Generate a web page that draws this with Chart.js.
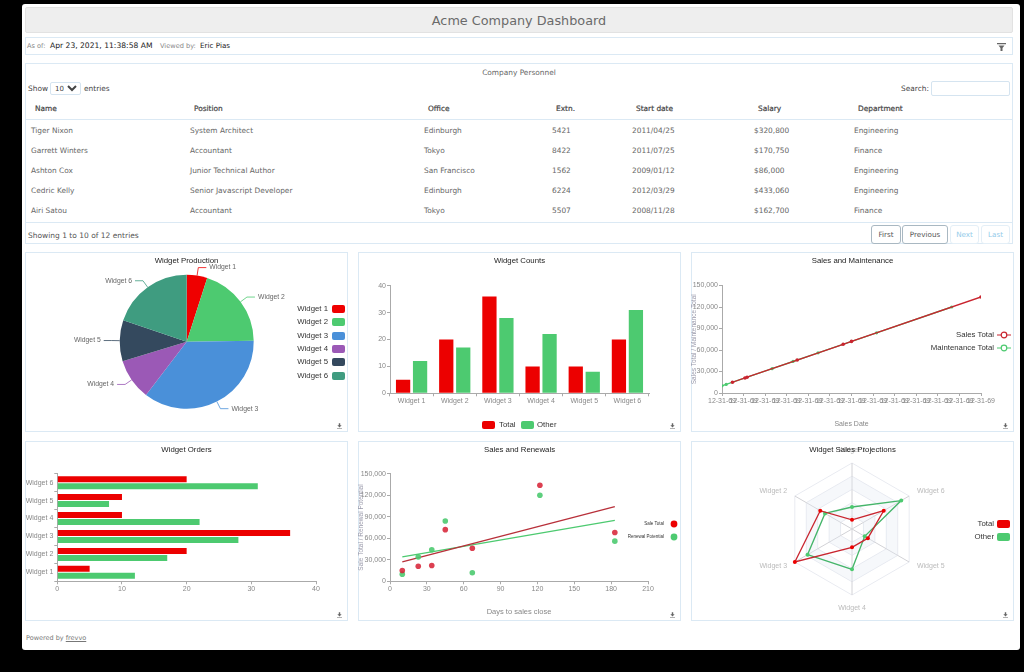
<!DOCTYPE html>
<html>
<head>
<meta charset="utf-8">
<title>Acme Company Dashboard</title>
<script src="https://cdn.jsdelivr.net/npm/chart.js@4/dist/chart.umd.js"></script>
<style>
html, body { margin: 0; padding: 0; background: #000; width: 1024px; height: 672px; overflow: hidden; }
body { font-family: "DejaVu Sans", sans-serif; font-size: 7.4px; color: #666; filter: blur(0.35px); }
#page { position: absolute; left: 22px; top: 4px; width: 998px; height: 646px; background: #fff; border-radius: 3px; }
.abs { position: absolute; white-space: nowrap; }
.card { position: absolute; box-sizing: border-box; border: 1px solid #dbe9f4; background: #fff; }
#heading { position: absolute; left: 25px; top: 7px; width: 988px; height: 26px; line-height: 26px; text-align: center; background: #eee; border: 1px solid #e2e2e2; box-sizing: border-box; border-radius: 2px; font-size: 12.8px; color: #6a6a6a; }
#grid { position: absolute; left: 25px; top: 98px; width: 988px; border-collapse: collapse; table-layout: fixed; font-size: 7.4px; }
#grid th { height: 21px; padding: 0 0 0 10px; text-align: left; font-weight: normal; color: #444; border-bottom: 1px solid #dbe9f4; -webkit-text-stroke: 0.2px #444; }
#grid td { height: 20.1px; padding: 1px 0 0 6px; box-sizing: border-box; color: #666; }
select, input { position: absolute; box-sizing: border-box; background: #fff; border: 1px solid #d5e4f0; font-family: inherit; font-size: 7px; padding: 0; margin: 0; color: #444; border-radius: 2px; }
.btn { position: absolute; top: 225px; height: 19px; line-height: 18px; box-sizing: border-box; text-align: center; font-size: 7.2px; border-radius: 3px; color: #555; border: 1px solid #a9b8c2; }
.btn.off { color: #93cbea; border-color: #e4eff7; }
.panel { position: absolute; box-sizing: border-box; width: 323px; height: 180px; }
.frame { position: absolute; left: 0; top: 0; width: 323px; height: 180px; box-sizing: border-box; border: 1px solid #dbe9f4; }
.panel canvas { position: absolute; left: 0; top: 0; }
.ctitle { position: absolute; left: 0; width: 323px; top: 4px; text-align: center; font: 7.8px "Liberation Sans", sans-serif; color: #222; }
.lg { position: absolute; font: 7.8px "Liberation Sans", sans-serif; color: #333; white-space: nowrap; line-height: 10px; }
.sw { position: absolute; width: 13px; height: 8px; border-radius: 2px; }
.dl { position: absolute; right: 6px; bottom: 3px; width: 5px; height: 6px; }
</style>
</head>
<body>
<div id="page"></div>
<div id="heading">Acme Company Dashboard</div>

<div class="card" style="left:25px;top:37px;width:988px;height:18px"></div>
<div class="abs" style="left:27px;top:42px;color:#888;font-size:6.6px">As of:</div>
<div class="abs" style="left:50px;top:41px;color:#222;font-size:7.6px">Apr 23, 2021, 11:38:58 AM</div>
<div class="abs" style="left:160px;top:42px;color:#888;font-size:6.6px">Viewed by:</div>
<div class="abs" style="left:200px;top:41px;color:#222;font-size:7.2px">Eric Pias</div>
<svg class="abs" style="left:997px;top:43px" width="9" height="8" viewBox="0 0 9 8"><path d="M0 0h9v1.2H0zM1.5 2.4h6L5.5 5v3h-2V5z" fill="#666"/></svg>

<div class="card" style="left:25px;top:63px;width:988px;height:181px"></div>
<div class="abs" style="left:25px;width:988px;top:68px;text-align:center">Company Personnel</div>
<div class="abs" style="left:28px;top:84px;color:#444">Show</div>
<select style="left:50px;top:82px;width:31px;height:13px"><option>10</option></select>
<div class="abs" style="left:84px;top:84px;color:#444">entries</div>
<div class="abs" style="left:901px;top:84px;color:#444">Search:</div>
<input style="left:931px;top:81px;width:79px;height:15px">
<table id="grid"><colgroup><col style="width:159px"><col style="width:234px"><col style="width:128px"><col style="width:80px"><col style="width:122px"><col style="width:100px"><col></colgroup><thead></thead><tbody></tbody></table>
<div class="abs" style="left:25px;top:222px;width:988px;height:1px;background:#dbe9f4"></div>
<div class="abs" style="left:28px;top:231px;color:#555;font-size:7.5px">Showing 1 to 10 of 12 entries</div>
<div class="btn" style="left:871px;width:30px">First</div>
<div class="btn" style="left:902px;width:46px">Previous</div>
<div class="btn off" style="left:950px;width:29px">Next</div>
<div class="btn off" style="left:981px;width:29px">Last</div>

<div class="panel" style="left:25px;top:252px"><div class="frame"></div><canvas id="pieChart" width="323" height="180"></canvas><div class="ctitle">Widget Production</div>
  <div id="pieLegend"></div>
</div>
<div class="panel" style="left:358px;top:252px"><div class="frame"></div><canvas id="countChart" width="323" height="180"></canvas><div class="ctitle">Widget Counts</div>
  <div class="sw" style="left:124px;top:169px;background:#ec0000"></div><div class="lg" style="left:141px;top:168px">Total</div>
  <div class="sw" style="left:163px;top:169px;background:#4dca70"></div><div class="lg" style="left:179px;top:168px">Other</div>
</div>
<div class="panel" style="left:691px;top:252px"><div class="frame"></div><canvas id="maintChart" width="323" height="180"></canvas><div class="ctitle">Sales and Maintenance</div>
  <div class="lg" style="right:20px;top:78px">Sales Total</div>
  <div class="lg" style="right:20px;top:91px">Maintenance Total</div>
  <svg class="abs" style="left:306px;top:78px" width="14" height="24" viewBox="0 0 14 24"><path d="M0 5h14" stroke="#c9252f"/><circle cx="7" cy="5" r="2.8" fill="#fff" stroke="#c9252f" stroke-width="1.2"/><path d="M0 18h14" stroke="#4dca70"/><circle cx="7" cy="18" r="2.8" fill="#fff" stroke="#4dca70" stroke-width="1.2"/></svg>
</div>
<div class="panel" style="left:25px;top:441px"><div class="frame"></div><canvas id="orderChart" width="323" height="180"></canvas><div class="ctitle">Widget Orders</div></div>
<div class="panel" style="left:358px;top:441px"><div class="frame"></div><canvas id="renewChart" width="323" height="180"></canvas><div class="ctitle">Sales and Renewals</div>
  <div class="lg" style="right:17px;top:78px;font-size:4.5px">Sale Total</div>
  <div class="lg" style="right:17px;top:91px;font-size:4.5px">Renewal Potential</div>
  <svg class="abs" style="left:312px;top:78px" width="8" height="24" viewBox="0 0 8 24"><circle cx="4" cy="5" r="3.4" fill="#ec0000"/><circle cx="4" cy="18" r="3.4" fill="#4dca70"/></svg>
</div>
<div class="panel" style="left:691px;top:441px"><div class="frame"></div><canvas id="radarChart" width="323" height="180"></canvas><div class="ctitle">Widget Sales Projections</div>
  <div class="lg" style="right:20px;top:78px">Total</div><div class="sw" style="left:306px;top:79px;background:#ec0000"></div>
  <div class="lg" style="right:20px;top:91px">Other</div><div class="sw" style="left:306px;top:92px;background:#4dca70"></div>
</div>
<div class="abs" style="left:26px;top:634px;color:#777;font-size:6.5px">Powered by <span style="text-decoration:underline">frevvo</span></div>

<script>
const tableHeaders = ['Name','Position','Office','Extn.','Start date','Salary','Department'];
const tableRows = [
  ['Tiger Nixon','System Architect','Edinburgh','5421','2011/04/25','$320,800','Engineering'],
  ['Garrett Winters','Accountant','Tokyo','8422','2011/07/25','$170,750','Finance'],
  ['Ashton Cox','Junior Technical Author','San Francisco','1562','2009/01/12','$86,000','Engineering'],
  ['Cedric Kelly','Senior Javascript Developer','Edinburgh','6224','2012/03/29','$433,060','Engineering'],
  ['Airi Satou','Accountant','Tokyo','5507','2008/11/28','$162,700','Finance']
];

const widgets = ['Widget 1','Widget 2','Widget 3','Widget 4','Widget 5','Widget 6'];
const totalCounts = [5,20,36,10,10,20];
const otherCounts = [12,17,28,22,8,31];
const pieColors = ['#ef0000','#4dca70','#4a90d9','#9b59b6','#34495e','#3f9c80'];

const salesTotals = [15000,21000,22000,46000,68000,72000,134000];
const maintTotals = [10000,12000,34000,44000,56000,84000,120000];
const dateLabel = '12-31-69';

const closeDays = [10,23,34,45,67,122,183];
const saleValues = [15000,21000,22000,72000,46000,134000,68000];
const renewValues = [10000,34000,44000,84000,12000,120000,56000];
const trendDays = [10,183];
const saleTrend = [27000,104000];
const renewTrend = [34000,85000];

const radarLabels = ['Widget 1','Widget 6','Widget 5','Widget 4','Widget 3','Widget 2'];
const radarTotal = [5,20,10,10,36,20];
const radarOther = [12,31,8,22,28,17];

const RED = '#ec0000', GREEN = '#4dca70', LINE_RED = '#c9252f';

Chart.defaults.font.family = '"Liberation Sans", sans-serif';
Chart.defaults.font.size = 7;
Chart.defaults.animation = false;
Chart.defaults.responsive = false;
Chart.defaults.plugins.legend.display = false;
Chart.defaults.plugins.tooltip.enabled = false;

document.querySelector('#grid thead').innerHTML = '<tr>' + tableHeaders.map(h => '<th>' + h + '</th>').join('') + '</tr>';
document.querySelector('#grid tbody').innerHTML = tableRows.map(r => '<tr>' + r.map(c => '<td>' + c + '</td>').join('') + '</tr>').join('');

// pie legend: text then swatch
document.getElementById('pieLegend').innerHTML = widgets.map((w, i) =>
  '<div class="lg" style="right:20px;top:' + (52 + i * 13.3) + 'px">' + w + '</div>' +
  '<div class="sw" style="left:307px;top:' + (53 + i * 13.3) + 'px;background:' + pieColors[i] + '"></div>').join('');

function axis(fixed, extra) {
  return Object.assign({
    border: { color: '#aaa' },
    grid: { drawOnChartArea: false, color: '#aaa', tickLength: 3 },
    ticks: { color: '#888', padding: 1, maxRotation: 0, autoSkip: false },
    afterFit(scale) {
      if (scale.isHorizontal()) scale.height = fixed; else scale.width = fixed;
    }
  }, extra);
}

function download(id) {
  const svg = '<svg class="dl" viewBox="0 0 7 8"><path d="M2.5 0h2v3h2L3.5 6 .5 3h2zM0 7h7v1H0z" fill="#666"/></svg>';
  document.getElementById(id).parentElement.insertAdjacentHTML('beforeend', svg);
}

// leader lines and labels around the pie
const pieLabels = {
  id: 'pieLabels',
  afterDatasetsDraw(chart) {
    const ctx = chart.ctx;
    chart.getDatasetMeta(0).data.forEach((arc, i) => {
      const p = arc.getProps(['x','y','startAngle','endAngle','outerRadius'], true);
      const mid = (p.startAngle + p.endAngle) / 2;
      const cos = Math.cos(mid), sin = Math.sin(mid);
      const side = cos >= 0 ? 1 : -1;
      const ex = p.x + cos * (p.outerRadius + 8), ey = p.y + sin * (p.outerRadius + 8);
      ctx.save();
      ctx.strokeStyle = pieColors[i];
      ctx.lineWidth = 0.8;
      ctx.beginPath();
      ctx.moveTo(p.x + cos * p.outerRadius, p.y + sin * p.outerRadius);
      ctx.lineTo(ex, ey);
      ctx.lineTo(ex + side * 8, ey);
      ctx.stroke();
      ctx.fillStyle = '#666';
      ctx.font = '6.8px "Liberation Sans", sans-serif';
      ctx.textAlign = side > 0 ? 'left' : 'right';
      ctx.textBaseline = 'middle';
      ctx.fillText(chart.data.labels[i], ex + side * 11, ey);
      ctx.restore();
    });
  }
};

// alternate rings and outside labels for the radar
const radarDecor = {
  id: 'radarDecor',
  beforeDatasetsDraw(chart) {
    const scale = chart.scales.r, ctx = chart.ctx, n = chart.data.labels.length;
    const ring = v => { for (let i = 0; i < n; i++) { const q = scale.getPointPositionForValue(i, v); i ? ctx.lineTo(q.x, q.y) : ctx.moveTo(q.x, q.y); } ctx.closePath(); };
    ctx.save();
    ctx.fillStyle = 'rgba(228,232,243,0.32)';
    [[28.8,21.6],[14.4,7.2]].forEach(b => { ctx.beginPath(); ring(b[0]); ring(b[1]); ctx.fill('evenodd'); });
    ctx.restore();
  },
  afterDraw(chart) {
    const scale = chart.scales.r, ctx = chart.ctx;
    ctx.save();
    ctx.fillStyle = '#bbb';
    ctx.font = '7px "Liberation Sans", sans-serif';
    ctx.textBaseline = 'middle';
    chart.data.labels.forEach((label, i) => {
      const q = scale.getPointPosition(i, scale.drawingArea + 9);
      const dx = q.x - scale.xCenter;
      ctx.textAlign = Math.abs(dx) < 1 ? 'center' : (dx > 0 ? 'left' : 'right');
      ctx.fillText(label, q.x, q.y + (Math.abs(dx) < 1 ? Math.sign(q.y - scale.yCenter) * 4 : 0));
    });
    ctx.restore();
  }
};

new Chart(document.getElementById('pieChart'), {
  type: 'pie',
  data: { labels: widgets, datasets: [{ data: totalCounts, backgroundColor: pieColors, borderWidth: 0 }] },
  options: { layout: { padding: { left: 94.7, right: 94.3, top: 22.7, bottom: 23.3 } } },
  plugins: [pieLabels]
});

new Chart(document.getElementById('countChart'), {
  type: 'bar',
  data: { labels: widgets, datasets: [
    { label: 'Total', data: totalCounts, backgroundColor: RED, categoryPercentage: 0.787, barPercentage: 0.84 },
    { label: 'Other', data: otherCounts, backgroundColor: GREEN, categoryPercentage: 0.787, barPercentage: 0.84 }
  ] },
  options: {
    layout: { padding: { left: 0, right: 32, top: 33.7, bottom: 14 } },
    scales: {
      x: axis(24.7),
      y: axis(32, { min: 0, max: 40, ticks: { color: '#888', padding: 1, stepSize: 10 } })
    }
  }
});

new Chart(document.getElementById('maintChart'), {
  type: 'line',
  data: { datasets: [
    { label: 'Sales Total', data: salesTotals.map(v => ({ x: v, y: v })), borderColor: LINE_RED, backgroundColor: LINE_RED, borderWidth: 1.3, pointRadius: 1.8, pointBorderWidth: 0 },
    { label: 'Maintenance Total', data: maintTotals.map(v => ({ x: v, y: v })), borderColor: GREEN, backgroundColor: GREEN, borderWidth: 1.4, pointRadius: 1.6, pointBorderWidth: 0 }
  ] },
  options: {
    layout: { padding: { left: 0, right: 33, top: 33.5, bottom: 4 } },
    scales: {
      x: axis(35, { type: 'linear', min: 10000, max: 134000, ticks: { color: '#888', padding: 1, maxRotation: 0, autoSkip: false, stepSize: 10000, includeBounds: false, callback: () => dateLabel },
        title: { display: true, text: 'Sales Date', color: '#888', font: { size: 7 }, padding: 0 } }),
      y: axis(31, { min: 0, max: 150000, ticks: { color: '#888', padding: 1, stepSize: 30000, callback: v => v.toLocaleString('en-US') },
        title: { display: true, text: 'Sales Total / Maintenance Total', color: '#99a', font: { size: 6.5 }, padding: { top: -1, bottom: 0 } } })
    }
  }
});

new Chart(document.getElementById('orderChart'), {
  type: 'bar',
  data: { labels: [...widgets].reverse(), datasets: [
    { label: 'Total', data: [...totalCounts].reverse(), backgroundColor: RED, categoryPercentage: 0.78, barPercentage: 0.86 },
    { label: 'Other', data: [...otherCounts].reverse(), backgroundColor: GREEN, categoryPercentage: 0.78, barPercentage: 0.86 }
  ] },
  options: {
    indexAxis: 'y',
    layout: { padding: { left: 0, right: 32, top: 32.7, bottom: 14 } },
    scales: {
      x: axis(25.7, { min: 0, max: 40, ticks: { color: '#888', padding: 1, stepSize: 10 } }),
      y: axis(32.3)
    }
  }
});

new Chart(document.getElementById('renewChart'), {
  type: 'scatter',
  data: { datasets: [
    { label: 'Sale Total', data: closeDays.map((d, i) => ({ x: d, y: saleValues[i] })), backgroundColor: 'rgba(214,30,50,0.85)', pointRadius: 2.8, pointBorderWidth: 0 },
    { label: 'Renewal Potential', data: closeDays.map((d, i) => ({ x: d, y: renewValues[i] })), backgroundColor: 'rgba(77,202,112,0.9)', pointRadius: 2.8, pointBorderWidth: 0 },
    { label: 'Sale Trend', data: trendDays.map((d, i) => ({ x: d, y: saleTrend[i] })), showLine: true, borderColor: '#b8303a', borderWidth: 1.4, pointRadius: 0 },
    { label: 'Renewal Trend', data: trendDays.map((d, i) => ({ x: d, y: renewTrend[i] })), showLine: true, borderColor: GREEN, borderWidth: 1.4, pointRadius: 0 }
  ] },
  options: {
    layout: { padding: { left: 0, right: 33, top: 32.7, bottom: 5 } },
    scales: {
      x: axis(34.7, { min: 0, max: 210, ticks: { color: '#888', padding: 1, stepSize: 30 },
        title: { display: true, text: 'Days to sales close', color: '#888', font: { size: 7.5 }, padding: 0 } }),
      y: axis(32, { min: 0, max: 150000, ticks: { color: '#888', padding: 1, stepSize: 30000, callback: v => v.toLocaleString('en-US') },
        title: { display: true, text: 'Sale Total / Renewal Potential', color: '#99a', font: { size: 6.5 }, padding: { top: -1, bottom: 0 } } })
    }
  }
});

new Chart(document.getElementById('radarChart'), {
  type: 'radar',
  data: { labels: radarLabels, datasets: [
    { label: 'Total', data: radarTotal, borderColor: LINE_RED, backgroundColor: RED, borderWidth: 1.3, pointRadius: 2, pointBorderWidth: 0, fill: false },
    { label: 'Other', data: radarOther, borderColor: '#45b56a', backgroundColor: GREEN, borderWidth: 1.3, pointRadius: 2, pointBorderWidth: 0, fill: false }
  ] },
  options: {
    layout: { padding: { left: 95.5, right: 95.5, top: 22.7, bottom: 25.3 } },
    scales: {
      r: { min: 0, max: 36, ticks: { display: false, stepSize: 7.2 }, pointLabels: { display: false },
        grid: { color: '#e9ebf1' }, angleLines: { color: '#d2d2d6' } }
    }
  },
  plugins: [radarDecor]
});

['pieChart','countChart','maintChart','orderChart','renewChart','radarChart'].forEach(download);
</script>
</body>
</html>
